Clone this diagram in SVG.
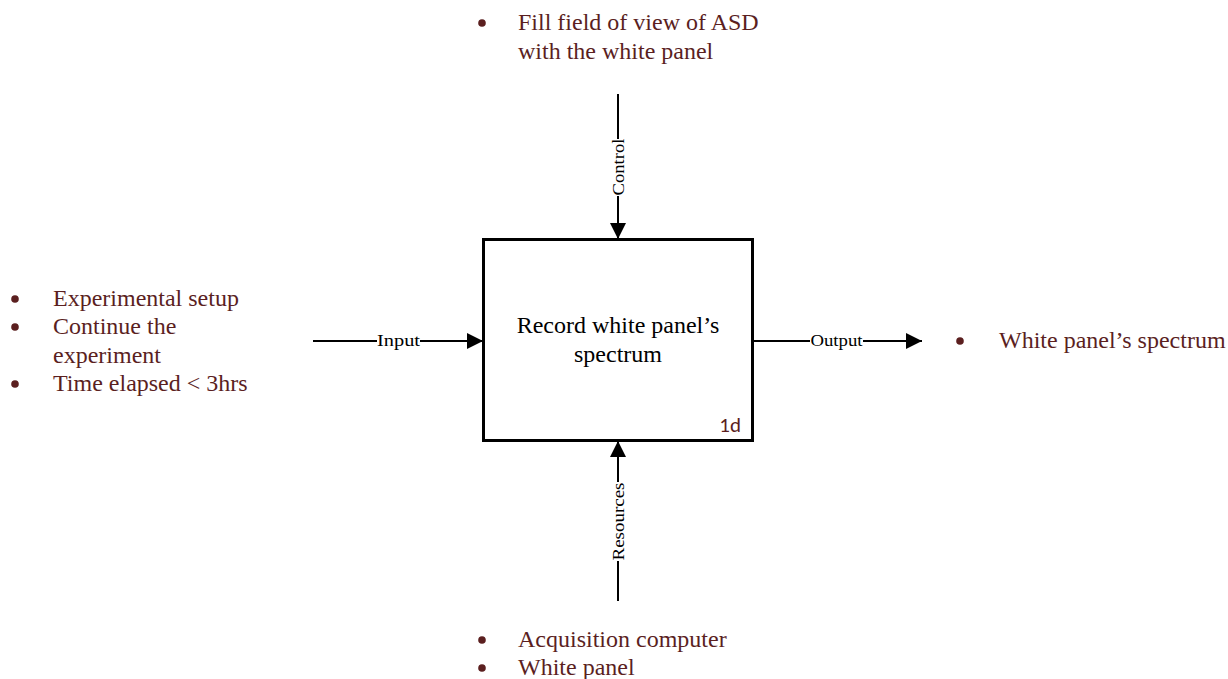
<svg xmlns="http://www.w3.org/2000/svg" width="1228" height="679" viewBox="0 0 1228 679">
  <style>
    .note { font-family: "Liberation Serif", "Times New Roman", serif; font-size: 24px; fill: #5b1f1f; }
    .title { font-family: "Liberation Serif", "Times New Roman", serif; font-size: 24px; fill: #000; }
    .lbl { font-family: "Liberation Serif", "Times New Roman", serif; font-size: 16px; fill: #000; }
    .wire { stroke: #000; stroke-width: 2; fill: none; }
    .dot { fill: #5b1f1f; }
  </style>
  <defs>
    <marker id="arrowBig" viewBox="0 0 10 10" refX="10" refY="5" markerWidth="16" markerHeight="16" markerUnits="userSpaceOnUse" orient="auto">
      <path d="M0,0 L10,5 L0,10 Z" fill="#000"/>
    </marker>
  </defs>

  <!-- Activity box -->
  <g id="activity">
    <rect x="483.5" y="239.5" width="269" height="201" fill="#fff" stroke="#000" stroke-width="3"/>
    <text class="title" x="618" y="333" text-anchor="middle">Record white panel’s</text>
    <text class="title" x="618" y="362" text-anchor="middle">spectrum</text>
    <text x="741" y="432" text-anchor="end" font-family="Carlito, 'Liberation Sans', sans-serif" font-size="21" fill="#5b1f1f">1d</text>
  </g>

  <!-- Arrows into and out of the activity -->
  <g id="connectors">
    <!-- control -->
    <line class="wire" x1="618" y1="94" x2="618" y2="139"/>
    <line class="wire" x1="618" y1="196" x2="618" y2="239" marker-end="url(#arrowBig)"/>
    <text class="lbl" transform="translate(624,167) rotate(-90)" text-anchor="middle" textLength="57" lengthAdjust="spacingAndGlyphs">Control</text>
    <!-- input -->
    <line class="wire" x1="313" y1="341" x2="377" y2="341"/>
    <line class="wire" x1="420" y1="341" x2="483" y2="341" marker-end="url(#arrowBig)"/>
    <text class="lbl" x="398.5" y="346" text-anchor="middle" textLength="43" lengthAdjust="spacingAndGlyphs">Input</text>
    <!-- output -->
    <line class="wire" x1="753" y1="341" x2="810" y2="341"/>
    <line class="wire" x1="863" y1="341" x2="922" y2="341" marker-end="url(#arrowBig)"/>
    <text class="lbl" x="836.5" y="346" text-anchor="middle" textLength="52" lengthAdjust="spacingAndGlyphs">Output</text>
    <!-- resources -->
    <line class="wire" x1="618" y1="601" x2="618" y2="561"/>
    <line class="wire" x1="618" y1="482" x2="618" y2="441" marker-end="url(#arrowBig)"/>
    <text class="lbl" transform="translate(624,521.5) rotate(-90)" text-anchor="middle" textLength="78" lengthAdjust="spacingAndGlyphs">Resources</text>
  </g>

  <!-- Control notes -->
  <g id="control-notes">
    <circle class="dot" cx="482" cy="23" r="3.8"/>
    <text class="note" x="518" y="30">Fill field of view of ASD</text>
    <text class="note" x="518" y="59">with the white panel</text>
  </g>

  <!-- Input notes -->
  <g id="input-notes">
    <circle class="dot" cx="15" cy="299" r="3.8"/>
    <text class="note" x="53" y="306">Experimental setup</text>
    <circle class="dot" cx="15" cy="327" r="3.8"/>
    <text class="note" x="53" y="334">Continue the</text>
    <text class="note" x="53" y="363">experiment</text>
    <circle class="dot" cx="15" cy="384" r="3.8"/>
    <text class="note" x="53" y="391">Time elapsed &lt; 3hrs</text>
  </g>

  <!-- Output notes -->
  <g id="output-notes">
    <circle class="dot" cx="960" cy="341" r="3.8"/>
    <text class="note" x="999" y="348">White panel’s spectrum</text>
  </g>

  <!-- Resource notes -->
  <g id="resource-notes">
    <circle class="dot" cx="482" cy="640" r="3.8"/>
    <text class="note" x="518" y="647">Acquisition computer</text>
    <circle class="dot" cx="482" cy="668" r="3.8"/>
    <text class="note" x="518" y="675">White panel</text>
  </g>
</svg>
